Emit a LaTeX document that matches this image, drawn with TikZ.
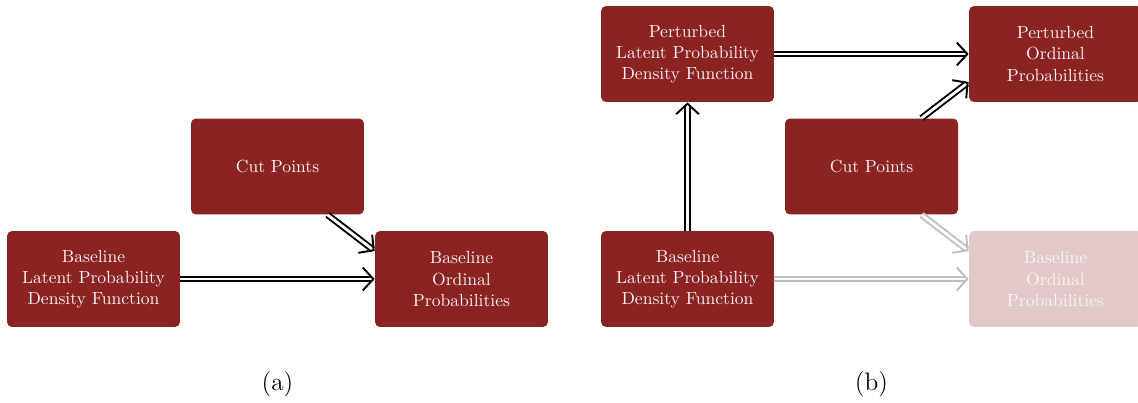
\documentclass[tikz,border=0pt]{standalone}
\usetikzlibrary{calc,arrows.meta}
\definecolor{boxred}{RGB}{139,35,35}
\begin{document}
\begin{tikzpicture}[x=0.02cm,y=-0.02cm,
  box/.style={fill=boxred,rounded corners=0.1cm,minimum width=3.46cm,minimum height=1.92cm,
    align=center,text=white!94!boxred,font=\normalsize,inner sep=0pt},
  faded/.style={fill=boxred!25,text=white!80!boxred!25},
  dbl/.style={double=white,draw=black,line width=1.1pt,double distance=1.6pt,-{Straight Barb[length=6pt,width=13pt]}},
  dblfade/.style={dbl,draw=black!25},
  captext/.style={font=\fontsize{14.4}{17}\selectfont}]
\useasboundingbox (0,0) rectangle (1138,402);
% (a)
\node[box] (aLat) at (93.5,279) {Baseline\\Latent Probability\\Density Function};
\node[box] (aCut) at (277.5,166.5) {Cut Points};
\node[box] (aOrd) at (461.5,279) {Baseline\\Ordinal\\Probabilities};
\node[captext] (capa) at (277.5,384) {(a)};
\draw[dbl] (aLat.east) -- (aOrd.west);
\coordinate (aCs) at ($(aCut.south)+(50,0)$);
\coordinate (aOe) at ($(aOrd.west)+(0,-28)$);
\draw[dbl] (aCs) -- (aOe);
% (b)
\node[box] (bPLat) at (687.5,54) {Perturbed\\Latent Probability\\Density Function};
\node[box] (bPOrd) at (1055.5,54) {Perturbed\\Ordinal\\Probabilities};
\node[box] (bCut) at (871.5,166.5) {Cut Points};
\node[box] (bLat) at (687.5,279) {Baseline\\Latent Probability\\Density Function};
\node[box,faded] (bOrd) at (1055.5,279) {Baseline\\Ordinal\\Probabilities};
\node[captext] (capb) at (871.5,384) {(b)};
\draw[dbl] (bPLat.east) -- (bPOrd.west);
\draw[dbl] (bLat.north) -- (bPLat.south);
\coordinate (bCn) at ($(bCut.north)+(50,0)$);
\coordinate (bPe) at ($(bPOrd.west)+(0,28)$);
\draw[dbl] (bCn) -- (bPe);
\coordinate (bCs) at ($(bCut.south)+(50,0)$);
\coordinate (bOe) at ($(bOrd.west)+(0,-28)$);
\draw[dblfade] (bCs) -- (bOe);
\draw[dblfade] (bLat.east) -- (bOrd.west);
\end{tikzpicture}
\end{document}
